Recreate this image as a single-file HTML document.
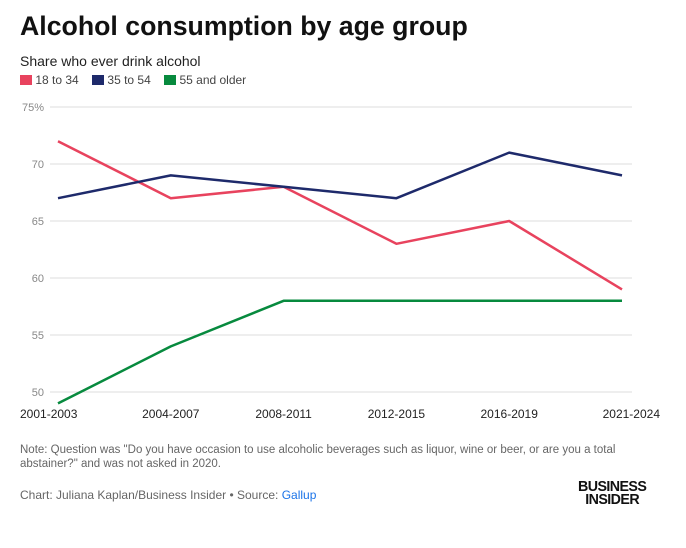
<!DOCTYPE html>
<html><head><meta charset="utf-8"><style>
body{margin:0;width:686px;height:548px;background:#fff;font-family:"Liberation Sans",sans-serif;position:relative;overflow:hidden}
.a{position:absolute;white-space:nowrap}
</style></head><body>
<div class="a" style="left:20px;top:11px;font-size:26.7px;font-weight:bold;color:#111">Alcohol consumption by age group</div>
<div class="a" style="left:20px;top:53px;font-size:14px;color:#222">Share who ever drink alcohol</div>
<div class="a" style="left:20px;top:73px;font-size:12px;color:#444">
<span><span style="display:inline-block;width:12px;height:10px;background:#e8435e;vertical-align:-1px"></span> 18 to 34</span>&nbsp;&nbsp;&nbsp;
<span><span style="display:inline-block;width:12px;height:10px;background:#1e2a6b;vertical-align:-1px"></span> 35 to 54</span>&nbsp;&nbsp;&nbsp;
<span><span style="display:inline-block;width:12px;height:10px;background:#078a3e;vertical-align:-1px"></span> 55 and older</span>
</div>
<svg id="c" width="686" height="548" style="position:absolute;left:0;top:0"></svg>
<div class="a" style="left:20px;top:443px;font-size:11.5px;color:#666;line-height:14px">Note: Question was "Do you have occasion to use alcoholic beverages such as liquor, wine or beer, or are you a total<br>abstainer?" and was not asked in 2020.</div>
<div class="a" style="left:20px;top:488px;font-size:12px;color:#666">Chart: Juliana Kaplan/Business Insider • Source: <span style="color:#1a73e8">Gallup</span></div>
<div class="a" style="left:578px;top:480px;font-size:15px;font-weight:900;line-height:13px;color:#111;text-align:center;letter-spacing:-0.6px;transform:scaleX(0.95);transform-origin:left">BUSINESS<br>INSIDER</div>
<script>
const categories=["2001-2003","2004-2007","2008-2011","2012-2015","2016-2019","2021-2024"];
const s1834=[72,67,68,63,65,59];
const s3554=[67,69,68,67,71,69];
const s55=[49,54,58,58,58,58];
const yTicks=[50,55,60,65,70,75];
const svg=document.getElementById('c');const NS="http://www.w3.org/2000/svg";
const x=i=>58+i*(622-58)/(categories.length-1);
const y=v=>392-(v-50)*(392-107)/25;
function mk(t,a){const e=document.createElementNS(NS,t);for(const k in a)e.setAttribute(k,a[k]);svg.appendChild(e);return e;}
yTicks.forEach(v=>{
 const g=mk('line',{x1:50,x2:632,y1:y(v),y2:y(v),stroke:'#ddd','stroke-width':1});
 
 
 const t=mk('text',{x:44,y:y(v)+4,'font-size':11,fill:'#888','text-anchor':'end'});t.textContent=v+(v===75?'%':'');
 
 
});
categories.forEach((c,i)=>{
 const anchor=i===0?'start':(i===categories.length-1?'end':'middle');
 const xx=i===0?20:(i===categories.length-1?660:x(i));
 const t=mk('text',{x:xx,y:418,'font-size':12,fill:'#222','text-anchor':anchor});t.textContent=c;
 
 
});
[[s55,'#078a3e','line-55-older'],[s1834,'#e8435e','line-18-34'],[s3554,'#1e2a6b','line-35-54']].forEach(([d,col,n])=>{
 const p=mk('polyline',{points:d.map((v,i)=>x(i)+','+y(v)).join(' '),fill:'none',stroke:col,'stroke-width':2.5,'stroke-linejoin':'round'});
 
 
});
</script>
</body></html>
